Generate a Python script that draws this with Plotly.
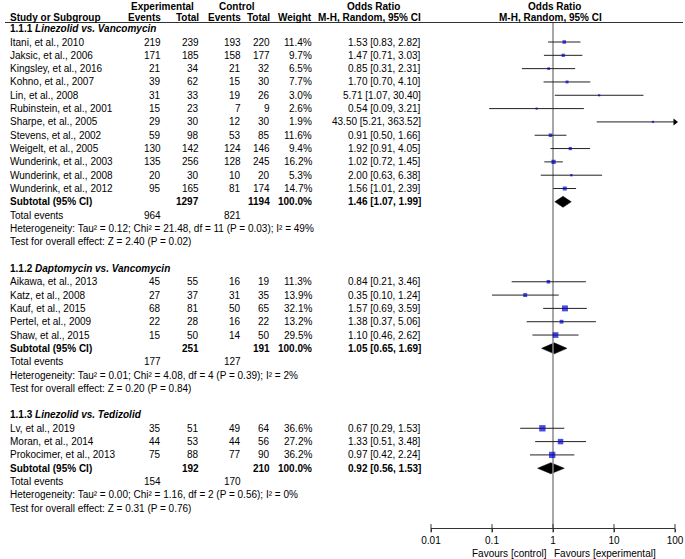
import math
import plotly.graph_objects as go

W, H = 685, 559

# ---------------- data ----------------
g1_label = "1.1.1"
g1_title = "Linezolid vs. Vancomycin"
g1_studies = ["Itani, et al., 2010", "Jaksic, et al., 2006", "Kingsley, et al., 2016", "Kohno, et al., 2007",
              "Lin, et al., 2008", "Rubinstein, et al., 2001", "Sharpe, et al., 2005", "Stevens, et al., 2002",
              "Weigelt, et al., 2005", "Wunderink, et al., 2003", "Wunderink, et al., 2008", "Wunderink, et al., 2012"]
g1_exp_events = [219, 171, 21, 39, 31, 15, 29, 59, 130, 135, 20, 95]
g1_exp_total = [239, 185, 34, 62, 33, 23, 30, 98, 142, 256, 30, 165]
g1_ctl_events = [193, 158, 21, 15, 19, 7, 12, 53, 124, 128, 10, 81]
g1_ctl_total = [220, 177, 32, 30, 26, 9, 30, 85, 146, 245, 20, 174]
g1_weight = [11.4, 9.7, 6.5, 7.7, 3.0, 2.6, 1.9, 11.6, 9.4, 16.2, 5.3, 14.7]
g1_or = [1.53, 1.47, 0.85, 1.70, 5.71, 0.54, 43.50, 0.91, 1.92, 1.02, 2.00, 1.56]
g1_lo = [0.83, 0.71, 0.31, 0.70, 1.07, 0.09, 5.21, 0.50, 0.91, 0.72, 0.63, 1.01]
g1_hi = [2.82, 3.03, 2.31, 4.10, 30.40, 3.21, 363.52, 1.66, 4.05, 1.45, 6.38, 2.39]
g1_pooled = [1.46, 1.07, 1.99]
g1_het = "Heterogeneity: Tau² = 0.12; Chi² = 21.48, df = 11 (P = 0.03); I² = 49%"
g1_test = "Test for overall effect: Z = 2.40 (P = 0.02)"

g2_label = "1.1.2"
g2_title = "Daptomycin vs. Vancomycin"
g2_studies = ["Aikawa, et al., 2013", "Katz, et al., 2008", "Kauf, et al., 2015", "Pertel, et al., 2009", "Shaw, et al., 2015"]
g2_exp_events = [45, 27, 68, 22, 15]
g2_exp_total = [55, 37, 81, 28, 50]
g2_ctl_events = [16, 31, 50, 16, 14]
g2_ctl_total = [19, 35, 65, 22, 50]
g2_weight = [11.3, 13.9, 32.1, 13.2, 29.5]
g2_or = [0.84, 0.35, 1.57, 1.38, 1.10]
g2_lo = [0.21, 0.10, 0.69, 0.37, 0.46]
g2_hi = [3.46, 1.24, 3.59, 5.06, 2.62]
g2_pooled = [1.05, 0.65, 1.69]
g2_het = "Heterogeneity: Tau² = 0.01; Chi² = 4.08, df = 4 (P = 0.39); I² = 2%"
g2_test = "Test for overall effect: Z = 0.20 (P = 0.84)"

g3_label = "1.1.3"
g3_title = "Linezolid vs. Tedizolid"
g3_studies = ["Lv, et al., 2019", "Moran, et al., 2014", "Prokocimer, et al., 2013"]
g3_exp_events = [35, 44, 75]
g3_exp_total = [51, 53, 88]
g3_ctl_events = [49, 44, 77]
g3_ctl_total = [64, 56, 90]
g3_weight = [36.6, 27.2, 36.2]
g3_or = [0.67, 1.33, 0.97]
g3_lo = [0.29, 0.51, 0.42]
g3_hi = [1.53, 3.48, 2.24]
g3_pooled = [0.92, 0.56, 1.53]
g3_het = "Heterogeneity: Tau² = 0.00; Chi² = 1.16, df = 2 (P = 0.56); I² = 0%"
g3_test = "Test for overall effect: Z = 0.31 (P = 0.76)"

tick_vals = [0.01, 0.1, 1, 10, 100]
tick_text = ["0.01", "0.1", "1", "10", "100"]
favours_left = "Favours [control]"
favours_right = "Favours [experimental]"

groups = [
    (g1_label, g1_title, g1_studies, g1_exp_events, g1_exp_total, g1_ctl_events, g1_ctl_total, g1_weight, g1_or, g1_lo, g1_hi, g1_pooled, g1_het, g1_test),
    (g2_label, g2_title, g2_studies, g2_exp_events, g2_exp_total, g2_ctl_events, g2_ctl_total, g2_weight, g2_or, g2_lo, g2_hi, g2_pooled, g2_het, g2_test),
    (g3_label, g3_title, g3_studies, g3_exp_events, g3_exp_total, g3_ctl_events, g3_ctl_total, g3_weight, g3_or, g3_lo, g3_hi, g3_pooled, g3_het, g3_test),
]

# ---------------- layout constants ----------------
FONT = "Liberation Sans, Arial, sans-serif"
FS = 10
Y0, DY = 28.68, 13.32          # pixel of row 0, row spacing
AXIS_PX = 528.3
X_LEFT_PX, X_RIGHT_PX = 431, 675
XMIN, XMAX = 0.01, 100

def px2row(p):
    return (p - Y0) / DY

COL_STUDY = 9
COL_EE, COL_ET, COL_CE, COL_CT, COL_W, COL_OR = 162, 200, 242, 271, 313, 422

annotations = []

def txt(x_px, row, s, anchor="left", size=FS):
    annotations.append(dict(x=x_px / W, xref="paper", y=row, yref="y", text=s, showarrow=False,
                            xanchor=anchor, yanchor="middle", borderpad=0,
                            font=dict(size=size, color="black", family=FONT)))

def txt_px(x_px, y_px, s, anchor="left", size=FS):
    annotations.append(dict(x=x_px / W, xref="paper", y=1 - y_px / H, yref="paper", text=s, showarrow=False,
                            xanchor=anchor, yanchor="middle", borderpad=0,
                            font=dict(size=size, color="black", family=FONT)))

# headers
rA = px2row(6.5)
rB = px2row(17.5)
txt(162, rA, "<b>Experimental</b>", "center")
txt(237, rA, "<b>Control</b>", "center")
txt(373, rA, "<b>Odds Ratio</b>", "center")
txt(554, rA, "<b>Odds Ratio</b>", "center")
txt(COL_STUDY, rB, "<b>Study or Subgroup</b>", "left")
txt(COL_EE, rB, "<b>Events</b>", "right")
txt(COL_ET, rB, "<b>Total</b>", "right")
txt(COL_CE, rB, "<b>Events</b>", "right")
txt(COL_CT, rB, "<b>Total</b>", "right")
txt(COL_W, rB, "<b>Weight</b>", "right")
txt(COL_OR, rB, "<b>M-H, Random, 95% CI</b>", "right")
txt(550, rB, "<b>M-H, Random, 95% CI</b>", "center")

ci_x, ci_y = [], []
sq_x, sq_y, sq_s = [], [], []
arrow_x, arrow_y = [], []
fig = go.Figure()

row = 0
for (lab, title, studies, ee, et, ce, ct, wt, orv, lo, hi, pooled, het, test) in groups:
    txt(COL_STUDY, row, f"<b>{lab} <i>{title}</i></b>")
    row += 1
    for i, s in enumerate(studies):
        txt(COL_STUDY, row, s)
        txt(COL_EE, row, str(ee[i]), "right")
        txt(COL_ET, row, str(et[i]), "right")
        txt(COL_CE, row, str(ce[i]), "right")
        txt(COL_CT, row, str(ct[i]), "right")
        txt(COL_W, row, f"{wt[i]:.1f}%", "right")
        txt(COL_OR, row, f"{orv[i]:.2f} [{lo[i]:.2f}, {hi[i]:.2f}]", "right")
        ci_x += [max(lo[i], XMIN), min(hi[i], XMAX), None]
        ci_y += [row, row, None]
        if hi[i] > XMAX:
            arrow_x.append(XMAX)
            arrow_y.append(row)
        sq_x.append(orv[i])
        sq_y.append(row)
        sq_s.append(max(2.2, 1.05 * math.sqrt(wt[i])))
        row += 1
    # subtotal
    txt(COL_STUDY, row, "<b>Subtotal (95% CI)</b>")
    txt(COL_ET, row, f"<b>{sum(et)}</b>", "right")
    txt(COL_CT, row, f"<b>{sum(ct)}</b>", "right")
    txt(COL_W, row, f"<b>{sum(wt):.1f}%</b>", "right")
    est, plo, phi = pooled
    txt(COL_OR, row, f"<b>{est:.2f} [{plo:.2f}, {phi:.2f}]</b>", "right")
    hh = 5.5 / DY
    fig.add_trace(go.Scatter(x=[plo, est, phi, est, plo], y=[row, row - hh, row, row + hh, row],
                             mode="lines", fill="toself", fillcolor="black",
                             line=dict(color="black", width=0.5), hoverinfo="skip", showlegend=False))
    row += 1
    txt(COL_STUDY, row, "Total events")
    txt(COL_EE, row, str(sum(ee)), "right")
    txt(COL_CE, row, str(sum(ce)), "right")
    row += 1
    txt(COL_STUDY, row, het)
    row += 1
    txt(COL_STUDY, row, test)
    row += 2

# line of no effect
fig.add_trace(go.Scatter(x=[1, 1], y=[px2row(22.5), px2row(AXIS_PX)], mode="lines",
                         line=dict(color="#8a8a8a", width=1.5), hoverinfo="skip", showlegend=False))
# CIs
fig.add_trace(go.Scatter(x=ci_x, y=ci_y, mode="lines", line=dict(color="#222222", width=1),
                         hoverinfo="skip", showlegend=False, cliponaxis=False))
# arrows
fig.add_trace(go.Scatter(x=arrow_x, y=arrow_y, mode="markers",
                         marker=dict(symbol="triangle-right", size=6, color="black", line=dict(width=0)),
                         hoverinfo="skip", showlegend=False, cliponaxis=False))
# study squares
fig.add_trace(go.Scatter(x=sq_x, y=sq_y, mode="markers",
                         marker=dict(symbol="square", size=sq_s, color="#0000CC", line=dict(width=0)),
                         hoverinfo="skip", showlegend=False, cliponaxis=False))
# tick marks crossing the axis
fig.add_trace(go.Scatter(x=tick_vals, y=[px2row(AXIS_PX)] * len(tick_vals), mode="markers",
                         marker=dict(symbol="line-ns", size=6, line=dict(color="#333333", width=1)),
                         hoverinfo="skip", showlegend=False, cliponaxis=False))

# favours labels
txt_px(548, 553.3, favours_left, "right")
txt_px(553, 553.3, favours_right, "left")

shapes = [dict(type="line", xref="paper", yref="y", x0=5 / W, x1=683 / W, y0=px2row(22.5), y1=px2row(22.5),
               line=dict(color="#333333", width=1))]

fig.update_layout(
    width=W, height=H, autosize=False,
    margin=dict(l=0, r=0, t=0, b=0, pad=0, autoexpand=False),
    paper_bgcolor="white", plot_bgcolor="white",
    showlegend=False,
    annotations=annotations,
    shapes=shapes,
    font=dict(family=FONT, size=FS, color="black"),
    xaxis=dict(type="log", range=[math.log10(XMIN), math.log10(XMAX)],
               domain=[X_LEFT_PX / W, X_RIGHT_PX / W], automargin=False,
               showgrid=False, zeroline=False, showline=True, linecolor="#333333", linewidth=1,
               ticks="outside", ticklen=3, tickcolor="#333333",
               tickvals=tick_vals, ticktext=tick_text, tickfont=dict(size=FS, color="black", family=FONT),
               fixedrange=True),
    yaxis=dict(range=[px2row(AXIS_PX), px2row(0)], domain=[1 - AXIS_PX / H, 1], automargin=False,
               visible=False, showgrid=False, zeroline=False, fixedrange=True),
)

fig.write_html("out.html", post_script="document.body.style.margin='0';document.body.style.padding='0';",
               config={"displayModeBar": False})
